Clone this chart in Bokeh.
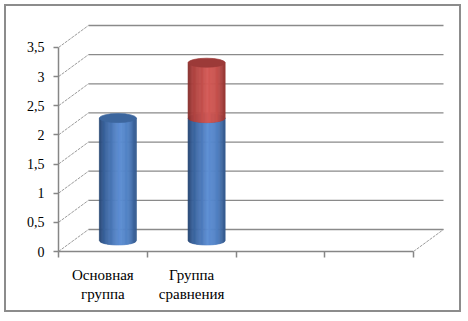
import numpy as np
from bokeh.plotting import figure
from bokeh.models import Range1d, FixedTicker, CustomJSTickFormatter
from bokeh.embed import file_html
from bokeh.resources import INLINE

# ---- data ----
categories = ["Основная\nгруппа", "Группа\nсравнения", "", ""]
series_blue = [2.1, 2.1, 0, 0]
series_red = [0, 0.95, 0, 0]
y_ticks = [0, 0.5, 1, 1.5, 2, 2.5, 3, 3.5]

# ---- layout ----
OFF = 6                       # canvas offset inside the chart border
W, H = 457, 308
B_LEFT, B_RIGHT, B_TOP, B_BOTTOM = 52, 14, 14, 63
FW = W - B_LEFT - B_RIGHT
FH = H - B_TOP - B_BOTTOM
NCAT = len(categories)
XPX = 88.75          # pixels per category slot
YPX = 58.29          # pixels per value unit
DX = 30 / XPX        # depth offset (x)
DY = 22 / YPX        # depth offset (y)
YMAX = y_ticks[-1]

p = figure(width=W, height=H, output_backend="svg", toolbar_location=None,
           x_range=Range1d(0, FW / XPX), y_range=Range1d(0, FH / YPX),
           min_border_left=B_LEFT, min_border_right=B_RIGHT,
           min_border_top=B_TOP, min_border_bottom=B_BOTTOM,
           margin=(OFF - 2, 0, 0, OFF - 2),
           styles={"border": "2px solid #8c8c8c"})
p.outline_line_color = None
p.grid.visible = False
p.background_fill_color = "white"
p.border_fill_color = "white"

AX = "#868686"
FONT = "Liberation Serif"

# y axis
ya = p.yaxis[0]
ya.ticker = FixedTicker(ticks=y_ticks, minor_ticks=[])
ya.formatter = CustomJSTickFormatter(code="return tick.toString().replace('.', ',');")
ya.bounds = (0, YMAX)
ya.axis_line_color = AX
ya.axis_line_width = 1.5
ya.major_tick_line_color = AX
ya.major_tick_line_width = 1.5
ya.major_tick_out = 5
ya.major_tick_in = 0
ya.minor_tick_line_color = None
ya.major_label_standoff = 9
ya.major_label_text_font = FONT
ya.major_label_text_font_size = "14px"
ya.major_label_text_color = "black"

# x axis
xa = p.xaxis[0]
xa.ticker = FixedTicker(ticks=[i + 0.5 for i in range(NCAT)],
                        minor_ticks=list(range(NCAT + 1)))
xa.formatter = CustomJSTickFormatter(args=dict(cats=categories),
                                     code="return cats[Math.floor(tick)];")
xa.bounds = (0, NCAT)
xa.axis_line_color = AX
xa.axis_line_width = 1.5
xa.major_tick_line_color = None
xa.major_tick_out = 0
xa.major_tick_in = 0
xa.minor_tick_line_color = AX
xa.minor_tick_line_width = 1.5
xa.minor_tick_out = 6
xa.minor_tick_in = 0
xa.major_label_standoff = 9
xa.major_label_text_font = FONT
xa.major_label_text_font_size = "15px"
xa.major_label_text_color = "black"

# back wall gridlines and left-wall diagonals
gy = [v + DY for v in y_ticks]
p.segment(x0=[DX] * len(y_ticks), y0=gy, x1=[NCAT + DX] * len(y_ticks), y1=gy,
          line_color="#8a8a8a", line_width=1.3)
p.segment(x0=[0] * len(y_ticks), y0=y_ticks, x1=[DX] * len(y_ticks), y1=gy,
          line_color="#9a9a9a", line_width=1, line_dash="3 1")
# floor right edge
p.segment(x0=[NCAT], y0=[0], x1=[NCAT + DX], y1=[DY],
          line_color="#9a9a9a", line_width=1, line_dash="3 1")

# cylinders
BW = 37 / XPX
EH = 9 / YPX
NS = 32
blue_stops = [(0, (36, 66, 110)), (0.12, (55, 95, 152)), (0.55, (92, 142, 212)),
              (0.8, (80, 128, 194)), (1, (52, 88, 140))]
red_stops = [(0, (130, 45, 43)), (0.12, (170, 64, 61)), (0.55, (212, 90, 86)),
             (0.8, (196, 80, 76)), (1, (150, 55, 52))]


def grad(t, stops):
    ts = [s[0] for s in stops]
    out = []
    for c in range(3):
        out.append(int(round(np.interp(t, ts, [s[1][c] for s in stops]))))
    return "#%02x%02x%02x" % tuple(out)


def cylinder(cx, y0, y1, stops, top_color):
    edges = np.linspace(cx - BW / 2, cx + BW / 2, NS + 1)

    def e(x):
        r = (x - cx) / (BW / 2)
        return EH / 2 * np.sqrt(np.clip(1 - r * r, 0, 1))

    xs, ys, cols = [], [], []
    for k in range(NS):
        a, b = edges[k], edges[k + 1]
        m = (a + b) / 2
        xs.append([a, m, b, b, a])
        ys.append([y0 - e(a), y0 - e(m), y0 - e(b), y1, y1])
        cols.append(grad((k + 0.5) / NS, stops))
    p.patches(xs, ys, fill_color=cols, line_color=cols, line_width=0.7)
    p.ellipse(x=[cx], y=[y1], width=BW, height=EH,
              fill_color=top_color, line_color=top_color, line_width=0.7)


base = DY / 2
for i in range(NCAT):
    cx = i + 0.5 + DX / 2
    b = series_blue[i]
    r = series_red[i]
    if b > 0:
        cylinder(cx, base, base + b, blue_stops, "#3c669e")
    if r > 0:
        cylinder(cx, base + b, base + b + r, red_stops, "#9c3a38")

open("out.html", "w").write(file_html(p, INLINE))
